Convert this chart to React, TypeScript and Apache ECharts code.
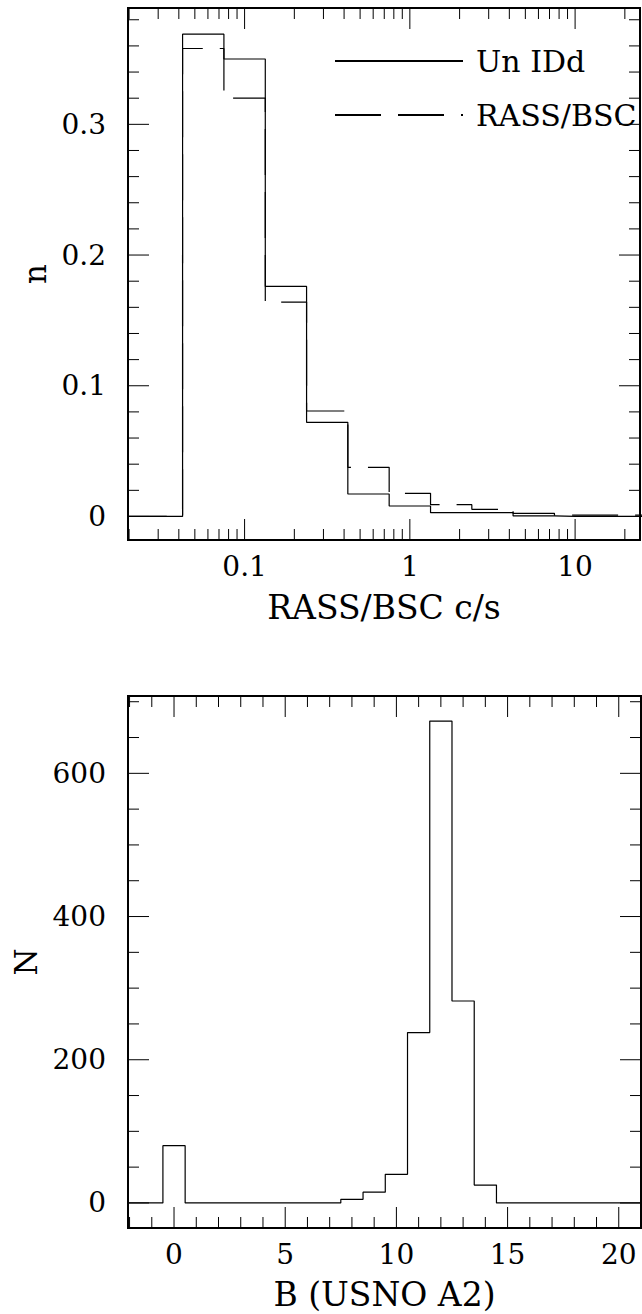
import React, { useEffect, useRef } from 'react';
import * as echarts from 'echarts';

// ---------- Top panel: RASS/BSC count-rate distribution ----------
const rateBinCenters = [0.0178, 0.0316, 0.0562, 0.1, 0.178, 0.316, 0.562, 1, 1.78, 3.16, 5.62, 10, 17.8, 31.6];
const unIdFraction = [0, 0, 0.369, 0.35, 0.176, 0.072, 0.0172, 0.008, 0.0029, 0.0029, 0.0004, 0, 0, 0];
const rassBscFraction = [0, 0, 0.358, 0.32, 0.164, 0.0807, 0.0376, 0.0177, 0.009, 0.0055, 0.0024, 0.001, 0.001, 0.001];
const rateMajorTicks = [0.1, 1, 10];
const rateTickLabels = ['0.1', '1', '10'];
const rateMinorTicks = [0.02, 0.03, 0.04, 0.05, 0.06, 0.07, 0.08, 0.09, 0.2, 0.3, 0.4, 0.5, 0.6, 0.7, 0.8, 0.9, 2, 3, 4, 5, 6, 7, 8, 9, 20];
const fracMajorTicks = [0, 0.1, 0.2, 0.3];
const fracTickLabels = ['0', '0.1', '0.2', '0.3'];
const fracMinorTicks = [0.02, 0.04, 0.06, 0.08, 0.12, 0.14, 0.16, 0.18, 0.22, 0.24, 0.26, 0.28, 0.32, 0.34, 0.36, 0.38];
const rateRange: [number, number] = [0.0197, 24.7];
const fracRange: [number, number] = [-0.018, 0.389];

// ---------- Bottom panel: B magnitude distribution ----------
const magBinCenters = [-3, -2, -1, 0, 1, 2, 3, 4, 5, 6, 7, 8, 9, 10, 11, 12, 13, 14, 15, 16, 17, 18, 19, 20, 21, 22];
const magCounts = [0, 0, 0, 80, 0, 0, 0, 0, 0, 0, 0, 5, 15, 40, 238, 673, 282, 25, 0, 0, 0, 0, 0, 0, 0, 0];
const magMajorTicks = [0, 5, 10, 15, 20];
const magTickLabels = ['0', '5', '10', '15', '20'];
const magMinorTicks = [-2, -1, 1, 2, 3, 4, 6, 7, 8, 9, 11, 12, 13, 14, 16, 17, 18, 19, 21];
const countMajorTicks = [0, 200, 400, 600];
const countTickLabels = ['0', '200', '400', '600'];
const countMinorTicks = [50, 100, 150, 250, 300, 350, 450, 500, 550, 650, 700];
const magRange: [number, number] = [-2.07, 21];
const countRange: [number, number] = [-35, 708];

const FONT = 'DejaVu Serif';

function labelFor(ticks: number[], labels: string[]) {
  return (v: number) => {
    for (let i = 0; i < ticks.length; i++) {
      const t = ticks[i];
      const tol = Math.max(Math.abs(t) * 1e-6, 1e-9);
      if (Math.abs(v - t) < tol) return labels[i];
    }
    return '';
  };
}

function tickSeries(
  idx: number,
  xr: [number, number],
  yr: [number, number],
  xMaj: number[],
  xMin: number[],
  yMaj: number[],
  yMin: number[]
) {
  const data: number[][] = [
    ...xMaj.map((v) => [v, yr[0], 1, 0]),
    ...xMin.map((v) => [v, yr[0], 0, 0]),
    ...yMaj.map((v) => [xr[0], v, 1, 1]),
    ...yMin.map((v) => [xr[0], v, 0, 1]),
  ];
  return {
    type: 'custom',
    xAxisIndex: idx,
    yAxisIndex: idx,
    silent: true,
    clip: false,
    z: 5,
    data,
    renderItem: (_p: any, api: any) => {
      const major = api.value(2);
      const dim = api.value(3);
      const len = major ? 21 : 11;
      const st = { stroke: '#000', lineWidth: 1 };
      if (dim === 0) {
        const v = api.value(0);
        const b = api.coord([v, yr[0]]);
        const t = api.coord([v, yr[1]]);
        return {
          type: 'group',
          children: [
            { type: 'line', shape: { x1: b[0], y1: b[1], x2: b[0], y2: b[1] - len }, style: st },
            { type: 'line', shape: { x1: t[0], y1: t[1], x2: t[0], y2: t[1] + len }, style: st },
          ],
        };
      }
      const v = api.value(1);
      const l = api.coord([xr[0], v]);
      const r = api.coord([xr[1], v]);
      return {
        type: 'group',
        children: [
          { type: 'line', shape: { x1: l[0], y1: l[1], x2: l[0] + len, y2: l[1] }, style: st },
          { type: 'line', shape: { x1: r[0], y1: r[1], x2: r[0] - len, y2: r[1] }, style: st },
        ],
      };
    },
  };
}

const hidden = { show: false };

export default function App() {
  const ref = useRef<HTMLDivElement>(null);

  useEffect(() => {
    if (!ref.current) return;
    const chart = echarts.init(ref.current, undefined, { renderer: 'svg' });

    const tickLabelStyle = { color: '#000', fontFamily: FONT, fontSize: 28 };
    const nameStyle = { color: '#000', fontFamily: FONT, fontSize: 31 };
    const xNameStyle = { color: '#000', fontFamily: FONT, fontSize: 33 };

    chart.setOption({
      animation: false,
      backgroundColor: '#fff',
      grid: [
        { left: 128, top: 8, width: 512, height: 532, show: true, borderColor: '#000', borderWidth: 2, backgroundColor: 'transparent' },
        { left: 128, top: 696, width: 513, height: 532, show: true, borderColor: '#000', borderWidth: 2, backgroundColor: 'transparent' },
      ],
      legend: {
        show: true,
        orient: 'vertical',
        left: 334,
        top: 44,
        padding: 0,
        itemWidth: 128,
        itemHeight: 34,
        itemGap: 20,
        selectedMode: false,
        itemStyle: { color: 'rgba(0,0,0,0)', borderWidth: 0, opacity: 0 },
        data: ['Un IDd', 'RASS/BSC'],
        textStyle: { color: '#000', fontFamily: FONT, fontSize: 30, lineHeight: 34, padding: [0, 0, 0, 8] },
      },
      xAxis: [
        {
          type: 'log',
          gridIndex: 0,
          min: rateRange[0],
          max: rateRange[1],
          logBase: 10,
          axisLine: hidden,
          axisTick: hidden,
          splitLine: hidden,
          minorTick: hidden,
          axisLabel: { ...tickLabelStyle, margin: 12, formatter: labelFor(rateMajorTicks, rateTickLabels), showMinLabel: false, showMaxLabel: false },
          name: 'RASS/BSC c/s',
          nameLocation: 'middle',
          nameGap: 51,
          nameTextStyle: xNameStyle,
        },
        {
          type: 'value',
          gridIndex: 1,
          min: magRange[0],
          max: magRange[1],
          splitNumber: 4,
          axisLine: hidden,
          axisTick: hidden,
          splitLine: hidden,
          axisLabel: { ...tickLabelStyle, margin: 12, formatter: labelFor(magMajorTicks, magTickLabels), showMinLabel: false, showMaxLabel: false },
          name: 'B (USNO A2)',
          nameLocation: 'middle',
          nameGap: 50,
          nameTextStyle: xNameStyle,
        },
      ],
      yAxis: [
        {
          type: 'value',
          gridIndex: 0,
          min: fracRange[0],
          max: fracRange[1],
          splitNumber: 4,
          axisLine: hidden,
          axisTick: hidden,
          splitLine: hidden,
          axisLabel: { ...tickLabelStyle, margin: 22, formatter: labelFor(fracMajorTicks, fracTickLabels), showMinLabel: false, showMaxLabel: false },
          name: 'n',
          nameLocation: 'middle',
          nameGap: 73,
          nameTextStyle: nameStyle,
        },
        {
          type: 'value',
          gridIndex: 1,
          min: countRange[0],
          max: countRange[1],
          splitNumber: 4,
          axisLine: hidden,
          axisTick: hidden,
          splitLine: hidden,
          axisLabel: { ...tickLabelStyle, margin: 22, formatter: labelFor(countMajorTicks, countTickLabels), showMinLabel: false, showMaxLabel: false },
          name: 'N',
          nameLocation: 'middle',
          nameGap: 73,
          nameTextStyle: nameStyle,
        },
      ],
      series: [
        {
          name: 'Un IDd',
          type: 'line',
          xAxisIndex: 0,
          yAxisIndex: 0,
          step: 'middle',
          symbol: 'none',
          showSymbol: false,
          data: rateBinCenters.map((x, i) => [x, unIdFraction[i]]),
          lineStyle: { color: '#000', width: 1.2, type: 'solid' },
          itemStyle: { color: '#000' },
        },
        {
          name: 'RASS/BSC',
          type: 'line',
          xAxisIndex: 0,
          yAxisIndex: 0,
          step: 'middle',
          symbol: 'none',
          showSymbol: false,
          data: rateBinCenters.map((x, i) => [x, rassBscFraction[i]]),
          lineStyle: { color: '#000', width: 1.2, type: [46, 17] },
          itemStyle: { color: '#000' },
        },
        {
          name: 'B mag',
          type: 'line',
          xAxisIndex: 1,
          yAxisIndex: 1,
          step: 'middle',
          symbol: 'none',
          showSymbol: false,
          data: magBinCenters.map((x, i) => [x, magCounts[i]]),
          lineStyle: { color: '#000', width: 1.2, type: 'solid' },
          itemStyle: { color: '#000' },
        },
        tickSeries(0, rateRange, fracRange, rateMajorTicks, rateMinorTicks, fracMajorTicks, fracMinorTicks),
        tickSeries(1, magRange, countRange, magMajorTicks, magMinorTicks, countMajorTicks, countMinorTicks),
      ],
    });

    return () => chart.dispose();
  }, []);

  return (
    <div
      ref={ref}
      style={{ position: 'fixed', left: 0, top: 0, width: 642, height: 1314, background: '#fff' }}
    />
  );
}
